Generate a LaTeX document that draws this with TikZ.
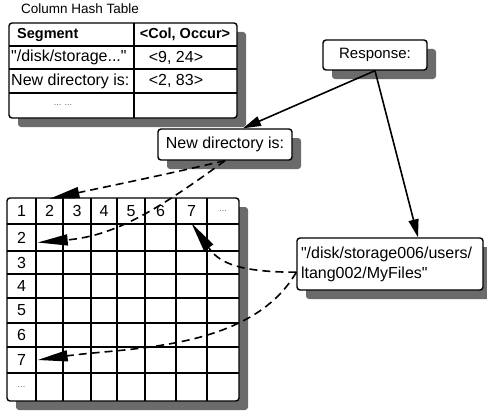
\documentclass[tikz,border=0pt]{standalone}
\usepackage{fontspec}
\setmainfont{Liberation Sans}[Ligatures=TeXOff]
\usetikzlibrary{arrows.meta,calc,shadows}

\tikzset{
  shade box/.style={draw=black, line width=1.4pt, fill=white, rounded corners=3pt,
    drop shadow={shadow xshift=9pt, shadow yshift=-9pt, fill=black!58, opacity=1}},
  msgbox/.style={shade box, inner sep=4pt, font=\fontsize{16}{20}\selectfont},
  gridline/.style={line width=1.4pt},
  tabtext/.style={font=\fontsize{16}{18}\selectfont, inner sep=0pt},
  headtext/.style={font=\fontsize{14.5}{17}\selectfont\bfseries, inner sep=0pt},
  cell/.style={font=\fontsize{16}{18}\selectfont, inner sep=0pt, minimum width=26pt, minimum height=24pt},
  dots/.style={font=\fontsize{9}{10}\selectfont, text=black!60},
  reply/.style={-{Triangle[length=18pt,width=10pt]}, line width=1.6pt},
  lookup/.style={-{Triangle[length=30pt,width=11pt]}, line width=1.6pt, dash pattern=on 8pt off 5pt},
}

\begin{document}
\begin{tikzpicture}[x=1pt,y=-1pt]
  \useasboundingbox (0,0) rectangle (487,412);

  %% Column hash table
  \node[font=\fontsize{13.5}{15}\selectfont] (title) at (80,9) {Column Hash Table};
  \node[shade box, minimum width=228pt, minimum height=95pt] (hashtab) at (123,70.5) {};
  \draw[gridline] (134,23) -- (134,118);
  \foreach \y in {46,69,93}
    \draw[gridline] (9,\y) -- (237,\y);
  \node[headtext, anchor=west] (seghead) at (17,34.5) {Segment};
  \node[headtext] (colhead) at (185,34.5) {<Col, Occur>};
  \node[tabtext, anchor=west] (seg1) at (11,57.5) {"/disk/storage..."};
  \node[tabtext] (occ1) at (176,57.5) {<9, 24>};
  \node[tabtext, anchor=west] (seg2) at (11,81) {New directory is:};
  \node[tabtext] (occ2) at (176,81) {<2, 83>};
  \node[dots] (seg3) at (63,105) {... ...};

  %% Column grid
  \node[shade box, minimum width=232pt, minimum height=203pt] (grid) at (123,299.5) {};
  \foreach \x in {36,63,91,117,145,176,207}
    \draw[gridline] (\x,198) -- (\x,401);
  \foreach \y in {224,251,274,298,323,347,373}
    \draw[gridline] (7,\y) -- (239,\y);
  \foreach \lab/\x in {1/21.5,2/49.5,3/77,4/104,5/131,6/160.5,7/191.5}
    \node[cell] (h\lab) at (\x,211) {\lab};
  \node[cell, dots] (hdots) at (223,211) {...};
  \foreach \lab/\y in {2/237.5,3/262.5,4/286,5/310.5,6/335,7/360}
    \node[cell] (r\lab) at (21.5,\y) {\lab};
  \node[cell, dots] (rdots) at (21.5,387) {...};

  %% Messages
  \node[msgbox, font=\fontsize{15}{18}\selectfont, minimum width=104pt, minimum height=30pt] (resp) at (375,55) {Response:};
  \node[msgbox, minimum width=134pt, minimum height=31pt] (newdir) at (225,144.5) {New directory is:};
  \node[msgbox, minimum height=52pt, align=left, text width=178pt] (path) at (390,264)
    {"/disk/storage006/users/\\ltang002/MyFiles"};

  %% Arrows
  \draw[reply] (resp.south) -- ($(newdir.north)+(18,0)$);
  \draw[reply] (resp.south) -- ($(path.north)+(28,0)$);
  \draw[lookup] (newdir.south) to[out=193, in=12] (h2.north);
  \draw[lookup] (newdir.south) to[out=216, in=5] ($(r2.east)+(3,5)$);
  \draw[lookup] (path.185) to[out=180, in=-55, out looseness=1.4] (h7.south);
  \draw[lookup] (path.185) to[out=240, in=8, looseness=0.85] ($(r7.east)+(3,0)$);
\end{tikzpicture}
\end{document}
